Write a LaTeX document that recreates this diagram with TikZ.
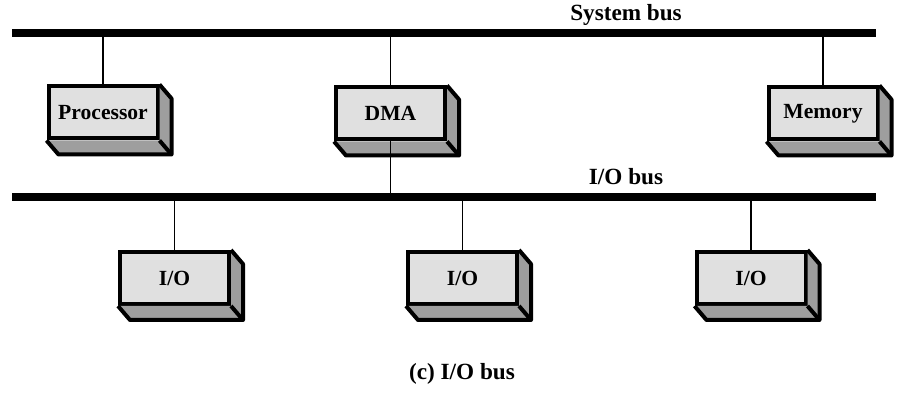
\documentclass[tikz,border=0pt]{standalone}
\usepackage{fontspec}
\setmainfont{Liberation Serif}
\tikzset{
  bus/.style={line width=3.8pt},
  tap/.style={line width=0.8pt},
  unit/.style={draw, line width=2pt, fill=black!12, inner sep=0pt,
    minimum width=54.5pt, minimum height=26pt,
    font=\fontsize{10.8}{12}\selectfont\bfseries},
  face/.style={fill=black!38},
  edge/.style={line width=2pt, line join=round}
}
\tikzset{buslabel/.style={font=\fontsize{11.6}{13}\selectfont\bfseries}}
\begin{document}
\begin{tikzpicture}[x=0.5pt,y=-0.5pt]
  \useasboundingbox (0,0) rectangle (898,400);
  % buses
  \coordinate (sysL) at (12,33);
  \coordinate (sysR) at (876,33);
  \coordinate (ioL) at (12,197);
  \coordinate (ioR) at (876,197);
  \draw[bus] (sysL) -- (sysR);
  \draw[bus] (ioL) -- (ioR);
  \node[buslabel] (sysbus) at (626,15) {System bus};
  \node[buslabel] (iobus) at (626,177) {I/O bus};
  % modules
  \node[unit] (proc) at (103,112.5) {Processor};
  \node[unit] (dma) at (390.5,113.5) {DMA};
  \node[unit] (mem) at (823,113.5) {Memory};
  \node[unit] (io1) at (174.5,278) {I/O};
  \node[unit] (io2) at (462.5,278) {I/O};
  \node[unit] (io3) at (751,278) {I/O};
  \foreach \n in {proc,dma,mem,io1,io2,io3} {
    \fill[face] (\n.north east) -- ++(12,14) -- ([shift={(12,14)}]\n.south east)
      -- ([shift={(12,14)}]\n.south west) -- (\n.south west) -- (\n.south east) -- cycle;
    \draw[edge] (\n.north east) -- ++(12,14) -- ([shift={(12,14)}]\n.south east)
      -- ([shift={(12,14)}]\n.south west) -- (\n.south west);
    \draw[edge] (\n.south east) -- ++(12,14);
  }
  % taps
  \draw[tap] (proc.north) -- (proc.north |- sysL);
  \draw[tap] (dma.north) -- (dma.north |- sysL);
  \draw[tap] (mem.north) -- (mem.north |- sysL);
  \draw[tap] (dma.south) -- (dma.south |- ioL);
  \foreach \n in {io1,io2,io3}
    \draw[tap] (\n.north) -- (\n.north |- ioL);
  \node[buslabel] (caption) at (462,374) {(c) I/O bus};
\end{tikzpicture}
\end{document}
